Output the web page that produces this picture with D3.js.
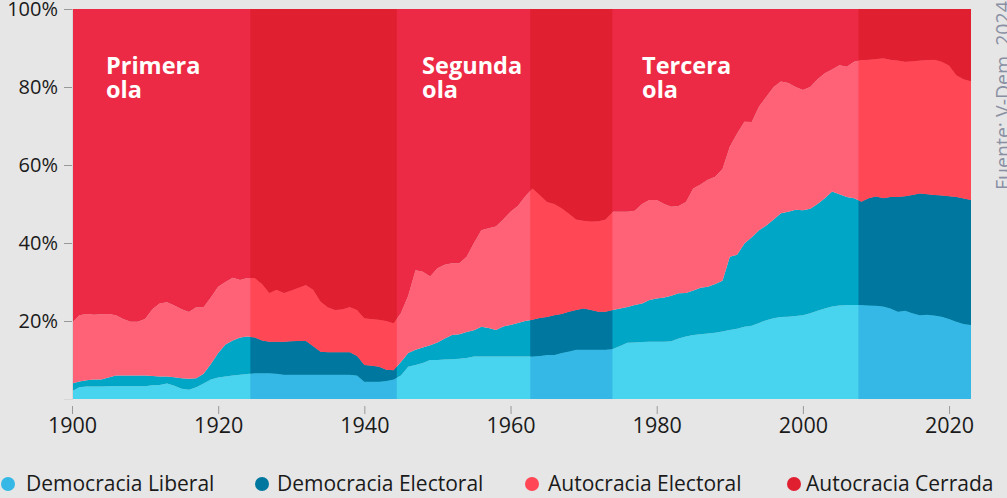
<!DOCTYPE html>
<html>
<head>
<meta charset="utf-8">
<script src="https://cdn.jsdelivr.net/npm/d3@7"></script>
<style>
  html, body { margin: 0; padding: 0; background: #e6e6e6; }
  svg { display: block; font-family: "Open Sans", "Noto Sans", sans-serif; }
</style>
</head>
<body>
<svg id="chart" width="1007" height="498"></svg>
<script>
// ---- Data (percent of countries), 1900–2023 ----
const firstYear = 1900, lastYear = 2023;
const seriesNames = ["Democracia Liberal", "Democracia Electoral", "Autocracia Electoral", "Autocracia Cerrada"];

const democraciaLiberal = [
  2.0,3.0,3.2,3.2,3.2,3.3,3.3,3.3,3.3,3.3,
  3.3,3.5,3.6,4.0,3.4,2.6,2.4,3.0,4.0,5.0,
  5.5,5.8,6.0,6.2,6.4,6.6,6.6,6.6,6.5,6.2,
  6.2,6.2,6.2,6.2,6.2,6.2,6.2,6.2,6.2,6.0,
  4.4,4.4,4.4,4.6,5.0,6.0,8.3,8.7,9.2,10.0,
  10.0,10.1,10.2,10.3,10.5,10.9,10.9,10.9,10.9,10.9,
  10.9,10.9,10.9,10.9,11.0,11.3,11.3,11.8,12.2,12.6,
  12.6,12.6,12.6,12.6,12.8,13.6,14.4,14.5,14.6,14.7,
  14.7,14.7,14.8,15.5,16.0,16.4,16.6,16.8,17.0,17.3,
  17.7,18.0,18.5,18.8,19.5,20.2,20.7,21.0,21.1,21.3,
  21.5,22.0,22.6,23.2,23.7,24.0,24.1,24.1,24.1,24.0,
  23.9,23.7,23.2,22.4,22.6,22.0,21.5,21.6,21.4,21.1,
  20.5,19.8,19.2,19.0
];
const democraciaElectoral = [
  2.0,1.5,1.6,1.8,1.8,2.2,2.7,2.7,2.7,2.7,
  2.7,2.4,2.2,1.8,2.2,2.7,2.8,2.3,2.5,4.0,
  6.3,8.2,9.0,9.6,9.6,9.2,8.4,8.1,8.2,8.5,
  8.6,8.7,8.7,7.3,5.9,5.8,5.8,5.8,5.8,5.0,
  4.3,4.1,3.9,2.9,2.4,3.5,3.5,3.9,4.0,3.8,
  4.5,5.4,6.2,6.3,6.7,6.7,7.6,7.3,6.8,7.7,
  8.1,8.6,9.1,9.4,9.8,9.7,10.2,10.0,10.2,10.2,
  10.6,10.2,9.8,9.8,10.0,9.6,9.2,9.6,9.9,10.7,
  11.1,11.3,11.7,11.6,11.2,11.4,11.9,12.0,12.5,13.0,
  18.8,19.0,21.4,22.7,23.8,24.3,25.3,26.6,26.9,27.2,
  26.9,26.8,27.4,28.3,29.5,28.5,27.7,27.4,26.5,27.5,
  28.0,27.8,28.6,29.4,29.4,30.3,31.2,30.9,30.9,31.1,
  31.5,32.0,32.2,32.0
];
const autocraciaElectoral = [
  15.5,17.0,17.0,16.6,16.7,16.3,15.5,14.5,13.8,13.8,
  14.5,17.1,18.7,19.0,18.4,17.7,17.1,18.2,17.0,17.0,
  17.0,16.0,16.1,14.7,15.0,15.2,14.5,12.5,13.3,12.5,
  13.0,13.6,14.3,14.5,12.9,11.5,10.8,11.0,11.6,11.8,
  12.0,12.0,12.0,12.5,12.0,12.5,14.7,20.4,19.4,17.6,
  19.0,18.9,18.4,18.2,19.3,22.4,24.8,25.6,26.5,27.4,
  29.0,30.0,31.9,33.7,31.5,29.5,28.5,27.1,25.1,23.2,
  22.5,22.7,23.2,23.6,25.2,24.8,24.4,24.2,25.5,25.6,
  25.2,24.0,22.8,22.4,23.3,26.2,26.5,27.4,27.5,28.7,
  28.2,31.1,31.2,29.5,31.7,33.0,34.0,33.8,33.0,31.5,
  30.8,31.2,32.0,32.0,31.3,33.1,33.4,35.0,36.3,35.5,
  35.3,35.9,35.2,35.0,34.5,34.3,34.1,34.4,34.7,34.3,
  33.5,31.2,30.6,30.5
];
const autocraciaCerrada = [
  80.5,78.5,78.2,78.4,78.3,78.2,78.5,79.5,80.2,80.2,
  79.5,77.0,75.5,75.2,76.0,77.0,77.7,76.5,76.5,74.0,
  71.2,70.0,68.9,69.5,69.0,69.0,70.5,72.8,72.0,72.8,
  72.2,71.5,70.8,72.0,75.0,76.5,77.2,77.0,76.4,77.2,
  79.3,79.5,79.7,80.0,80.6,78.0,73.5,67.0,67.4,68.6,
  66.5,65.6,65.2,65.2,63.5,60.0,56.7,56.2,55.8,54.0,
  52.0,50.5,48.1,46.0,47.7,49.5,50.0,51.1,52.5,54.0,
  54.3,54.5,54.4,54.0,52.0,52.0,52.0,51.7,50.0,49.0,
  49.0,50.0,50.7,50.5,49.5,46.0,45.0,43.8,43.0,41.0,
  35.3,31.9,28.9,29.0,25.0,22.5,20.0,18.6,19.0,20.0,
  20.8,20.0,18.0,16.5,15.5,14.4,14.8,13.5,13.1,13.0,
  12.8,12.6,13.0,13.2,13.5,13.4,13.2,13.1,13.0,13.5,
  14.5,17.0,18.0,18.5
];

// Periods of "reverse waves" (shaded darker)
const reverseWaveStart = [1924.4, 1962.7, 2007.6];
const reverseWaveEnd   = [1944.3, 1973.8, 2023];

// Wave labels
const waveLabels = [["Primera", "ola"], ["Segunda", "ola"], ["Tercera", "ola"]];
const waveLabelYears = [1904.65, 1947.9, 1978.0];
const waveLabelPct = 83.3;

const xTicks = [1900, 1920, 1940, 1960, 1980, 2000, 2020];
const yTicks = [20, 40, 60, 80, 100];
const sourceText = "Fuente: V-Dem, 2024";

// ---- Colours ----
const waveColors    = ["#48d3ee", "#00a6c6", "#ff6277", "#ec2a45"];
const reverseColors = ["#35b8e5", "#00779f", "#ff4756", "#e01f31"];

// ---- Build table ----
const years = d3.range(firstYear, lastYear + 1);
const keys = ["lib", "edem", "eaut", "cerr"];
const table = years.map((yr, i) => ({
  year: yr,
  lib: democraciaLiberal[i],
  edem: democraciaElectoral[i],
  eaut: autocraciaElectoral[i],
  cerr: autocraciaCerrada[i]
}));
const stacked = d3.stack().keys(keys)(table);

// ---- Scales ----
const svg = d3.select("#chart");
const x = d3.scaleLinear().domain([firstYear, lastYear]).range([72, 971]);
const y = d3.scaleLinear().domain([0, 100]).range([399, 9]);

const area = d3.area()
  .x(d => x(d.data.year))
  .y0(d => y(d[0]))
  .y1(d => y(d[1]))
  .curve(d3.curveLinear);

// base layer (wave colours)
svg.append("g")
  .selectAll("path")
  .data(stacked)
  .join("path")
  .attr("d", area)
  .attr("fill", (d, i) => waveColors[i]);

// reverse wave layers
const defs = svg.append("defs");
reverseWaveStart.forEach((s, k) => {
  const e = reverseWaveEnd[k];
  defs.append("clipPath").attr("id", "clip" + k)
    .append("rect")
    .attr("x", x(s)).attr("y", 0)
    .attr("width", x(e) - x(s) + 1).attr("height", y(0));
  svg.append("g")
    .attr("clip-path", `url(#clip${k})`)
    .selectAll("path")
    .data(stacked)
    .join("path")
    .attr("d", area)
    .attr("fill", (d, i) => reverseColors[i]);
});

// ---- Axes ----
const yAxis = svg.append("g")
  .attr("transform", `translate(${x(firstYear)},0)`)
  .call(d3.axisLeft(y).tickValues(yTicks).tickFormat(d => d + "%").tickSize(8).tickPadding(6));
yAxis.select(".domain").attr("stroke", "#d6d6d6");
yAxis.selectAll(".tick line").attr("stroke", "#999");
yAxis.selectAll("text").attr("font-size", 20).attr("fill", "#1a1a1a")
  .attr("font-family", "'Open Sans', sans-serif");

const xAxis = svg.append("g")
  .attr("transform", `translate(0,${y(0) + 7})`)
  .call(d3.axisBottom(x).tickValues(xTicks).tickFormat(d3.format("d")).tickSize(8).tickPadding(4));
xAxis.select(".domain").remove();
xAxis.selectAll(".tick line").attr("stroke", "#999");
xAxis.selectAll("text").attr("font-size", 21.5).attr("fill", "#1a1a1a")
  .attr("font-family", "'Open Sans', sans-serif");

// ---- Wave labels ----
waveLabels.forEach((lines, i) => {
  const t = svg.append("text")
    .attr("x", x(waveLabelYears[i]))
    .attr("y", y(waveLabelPct))
    .attr("fill", "#ffffff")
    .attr("font-weight", 700)
    .attr("font-size", 23.5)
    .attr("font-family", "'Open Sans', sans-serif");
  lines.forEach((ln, j) => {
    t.append("tspan").attr("x", x(waveLabelYears[i])).attr("dy", j === 0 ? 0 : 24).text(ln);
  });
});

// ---- Source ----
svg.append("text")
  .attr("transform", "translate(1010,190) rotate(-90)")
  .attr("fill", "#8a90a3")
  .attr("font-size", 19.5)
  .attr("font-family", "'Open Sans', sans-serif")
  .text(sourceText);

// ---- Legend ----
const legendDotX = [8, 262, 532, 794];
const legendTextX = [26, 277, 548, 806];
const legend = svg.append("g");
seriesNames.forEach((name, i) => {
  legend.append("circle")
    .attr("cx", legendDotX[i]).attr("cy", 484).attr("r", 7)
    .attr("fill", reverseColors[i]);
  legend.append("text")
    .attr("x", legendTextX[i]).attr("y", 491)
    .attr("font-size", 21)
    .attr("fill", "#1a1a1a")
    .attr("font-family", "'Open Sans', sans-serif")
    .text(name);
});
</script>
</body>
</html>
